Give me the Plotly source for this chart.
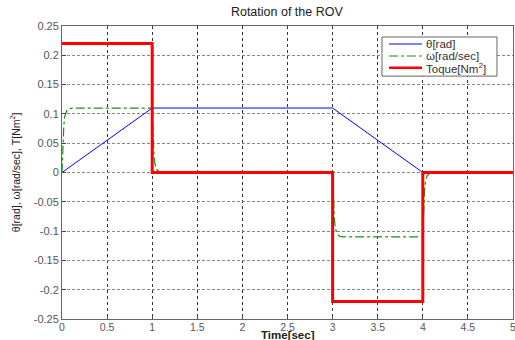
import plotly.graph_objects as go

# Data
theta_t = [0, 1, 3, 4, 5]
theta_v = [0, 0.11, 0.11, 0, 0]

omega_t = [0, 0.01, 0.02, 0.03, 0.05, 0.08, 0.12, 1.0, 1.01, 1.02, 1.03, 1.05, 1.08, 1.12,
           3.0, 3.01, 3.02, 3.03, 3.05, 3.08, 3.12, 4.0, 4.01, 4.02, 4.03, 4.05, 4.08, 4.12, 5.0]
omega_v = [0, 0.05, 0.08, 0.095, 0.105, 0.109, 0.11, 0.11, 0.06, 0.03, 0.015, 0.005, 0.001, 0,
           0, -0.05, -0.08, -0.095, -0.105, -0.109, -0.11, -0.11, -0.06, -0.03, -0.015, -0.005, -0.001, 0, 0]

torque_t = [0, 1, 1, 3, 3, 4, 4, 5]
torque_v = [0.22, 0.22, 0, 0, -0.22, -0.22, 0, 0]

series_names = ["θ[rad]", "ω[rad/sec]", "Toque[Nm<sup>2</sup>]"]
series_colors = ["#0000ff", "#1a8f1a", "#ff0000"]
series_widths = [1, 1.2, 3]
series_dash = ["solid", "dashdot", "solid"]

x_ticks = [0, 0.5, 1, 1.5, 2, 2.5, 3, 3.5, 4, 4.5, 5]
y_ticks = [-0.25, -0.2, -0.15, -0.1, -0.05, 0, 0.05, 0.1, 0.15, 0.2, 0.25]
y_labels = ["-0.25", "-0.2", "-0.15", "-0.1", "-0.05", "0", "0.05", "0.1", "0.15", "0.2", "0.25"]

fig = go.Figure()
for (xs, ys), name, col, w, d in zip([(theta_t, theta_v), (omega_t, omega_v), (torque_t, torque_v)],
                                     series_names, series_colors, series_widths, series_dash):
    fig.add_trace(go.Scatter(x=xs, y=ys, mode="lines", name=name, showlegend=False,
                             line=dict(color=col, width=w, dash=d)))

font = "Liberation Sans, Arial, sans-serif"

# Compact legend box (MATLAB style)
shapes = [dict(type="rect", xref="paper", yref="paper", x0=0.7095, x1=0.9645, y0=0.829, y1=0.9625,
               fillcolor="white", line=dict(color="#666", width=1), layer="above")]
annotations = []
row_y = [0.9386, 0.8976, 0.8577]
for ry, name, col, w, d in zip(row_y, series_names, series_colors, series_widths, series_dash):
    shapes.append(dict(type="line", xref="paper", yref="paper", x0=0.7251, x1=0.7982, y0=ry, y1=ry,
                       line=dict(color=col, width=min(w, 2.5) if w > 1 else w, dash=d), layer="above"))
    annotations.append(dict(text=name, xref="paper", yref="paper", x=0.8027, y=ry,
                            xanchor="left", yanchor="middle", showarrow=False,
                            font=dict(family=font, size=11.5, color="#333")))

annotations += [
    dict(text="<b>Time[sec]</b>", xref="paper", yref="paper", x=0.5, y=-0.056,
         xanchor="center", yanchor="middle", showarrow=False,
         font=dict(family=font, size=11.5, color="#222")),
    dict(text="θ[rad], ω[rad/sec], T[Nm<sup>2</sup>]", xref="paper", yref="paper",
         x=-0.105, y=0.5, xanchor="center", yanchor="middle", textangle=-90,
         showarrow=False, font=dict(family=font, size=10.5, color="#222")),
]

fig.update_layout(
    width=515, height=340,
    margin=dict(l=62, r=2, t=26, b=21, autoexpand=False),
    paper_bgcolor="white", plot_bgcolor="white",
    title=dict(text="Rotation of the ROV", x=0.557, xanchor="center", y=0.965, yanchor="middle",
               font=dict(family=font, size=12.5, color="#222")),
    font=dict(family=font, size=10, color="#444"),
    showlegend=False,
    shapes=shapes,
    annotations=annotations,
)
fig.update_xaxes(range=[0, 5], tickvals=x_ticks, ticks="inside", ticklen=4, automargin=False,
                 ticklabeloverflow="allow", ticklabelstandoff=-2,
                 showline=True, linecolor="#666", linewidth=1, mirror=True,
                 showgrid=True, gridcolor="#333", griddash="dot", gridwidth=1,
                 zeroline=False, tickfont=dict(size=10.5, color="#555"))
fig.update_yaxes(range=[-0.25, 0.25], tickvals=y_ticks, ticktext=y_labels, ticks="inside", ticklen=4,
                 automargin=False, ticklabeloverflow="allow",
                 showline=True, linecolor="#666", linewidth=1, mirror=True,
                 showgrid=True, gridcolor="#888", griddash="3px,2px", gridwidth=1,
                 zeroline=False, tickfont=dict(size=11, color="#555"))
fig.write_html("out.html", config={"displayModeBar": False},
               post_script="document.body.style.margin='0';document.body.style.overflow='hidden';")
